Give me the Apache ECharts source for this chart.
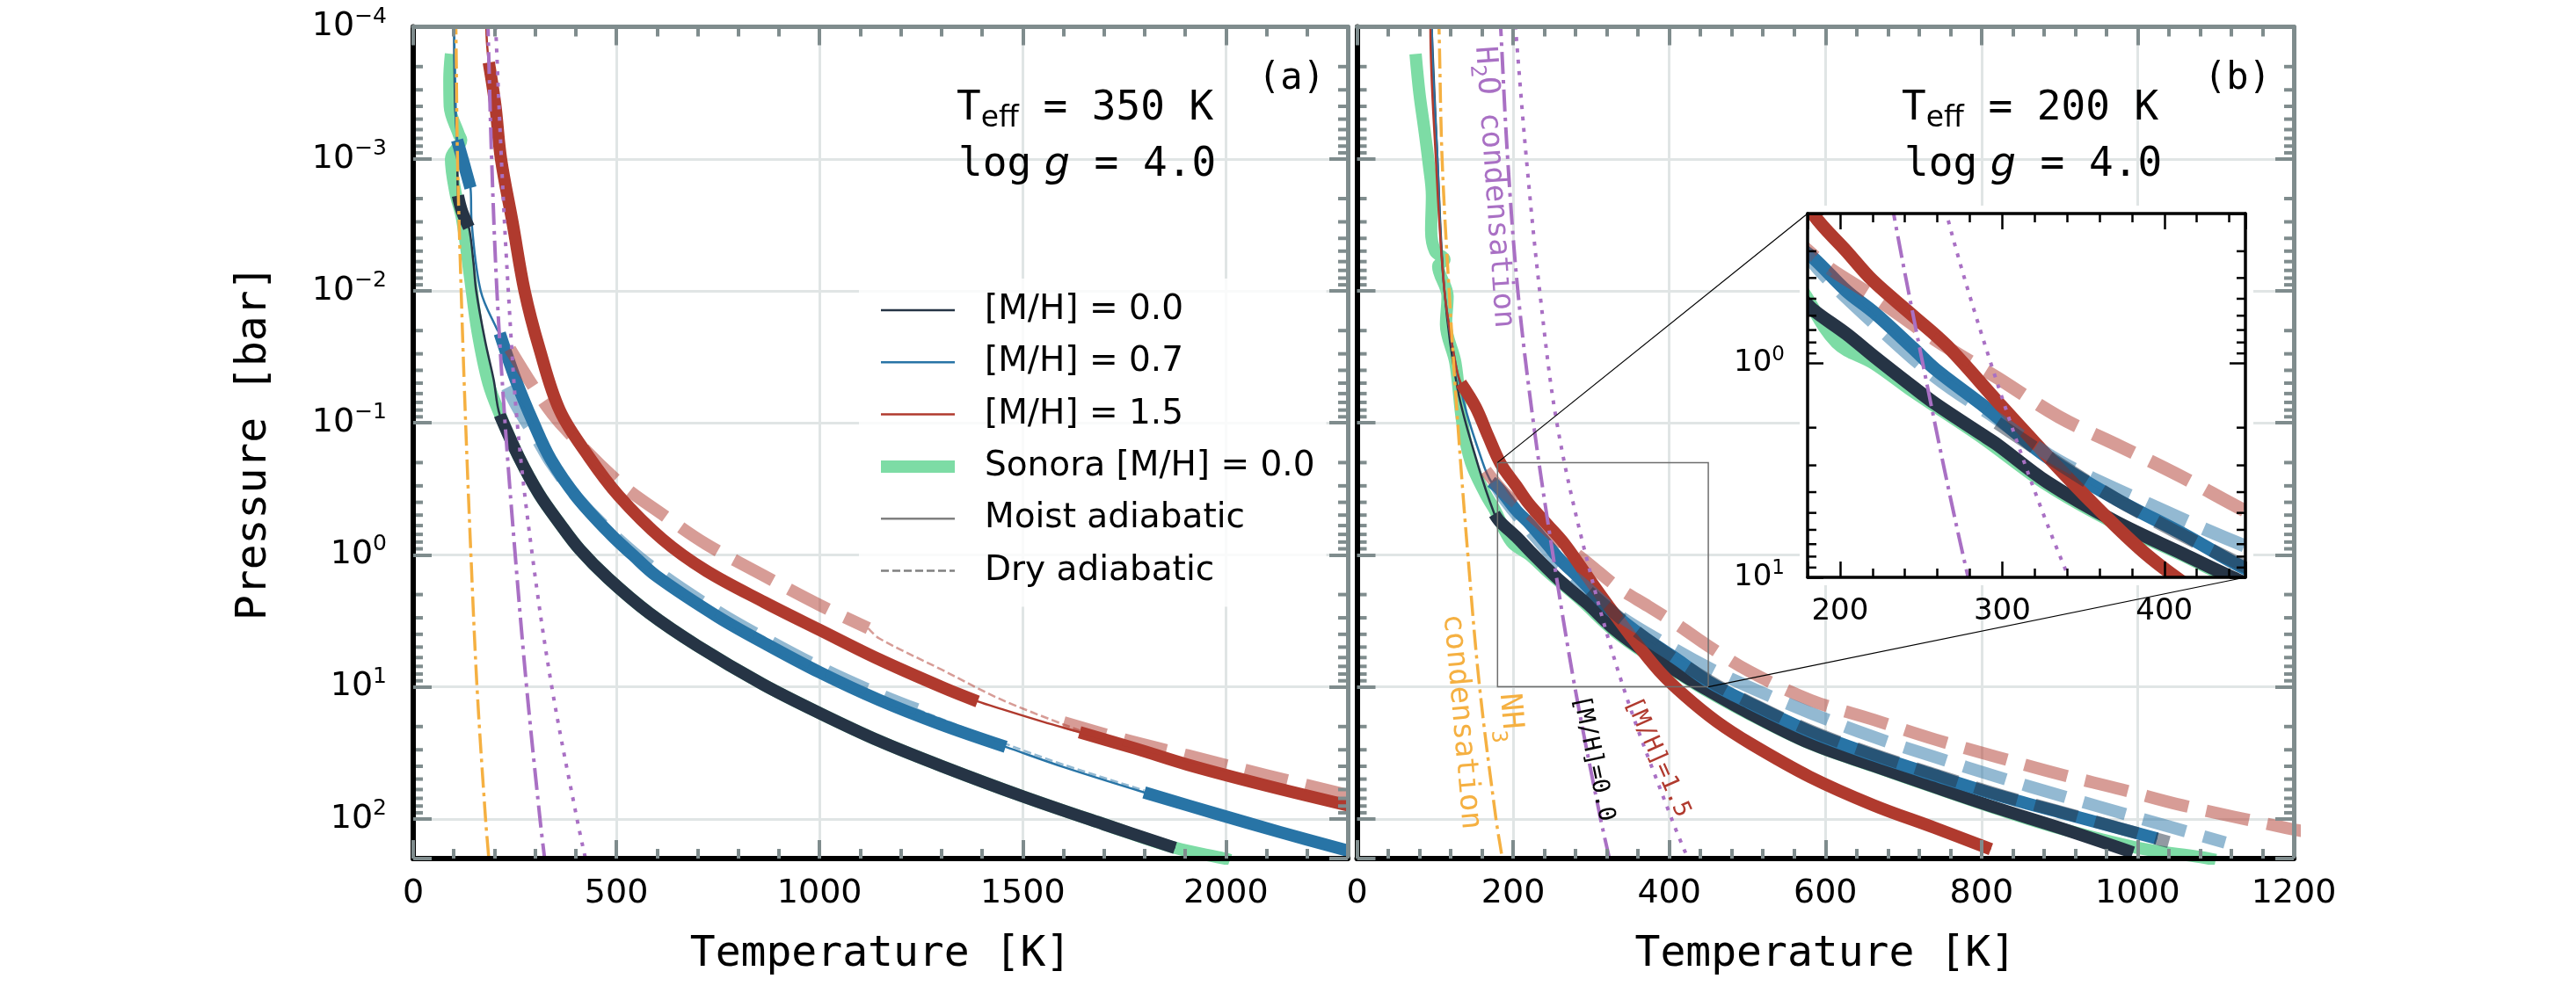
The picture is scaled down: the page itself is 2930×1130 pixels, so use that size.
<!DOCTYPE html>
<html>
<head>
<meta charset="utf-8">
<script src="https://cdn.jsdelivr.net/npm/echarts@6/dist/echarts.min.js"></script>
<style>html,body{margin:0;padding:0;background:#fff;}#chart{width:2930px;height:1130px;}</style>
</head>
<body>
<div id="chart"></div>
<script>
// ================= DATA (temperature [K], pressure [bar]) =================
// Condensation curves (shared by both panels)
const nh3Cond      = [[104,8e-5],[105,1e-4],[109,1e-3],[118,1e-2],[129,0.1],[142,1],[157,10],[178,100],[186,200],[188,260]];
const h2oCondSolar = [[183,8e-5],[184,1e-4],[193,1e-3],[206,1e-2],[226,0.1],[251,1],[279,10],[312,100],[325,220]];
const h2oCondRich  = [[202,8e-5],[203,1e-4],[217,1e-3],[234,1e-2],[256,0.1],[293,1],[341,10],[403,100],[427,220]];

// Panel (a): Teff = 350 K
const aSonora = [[93,1.6e-4],[89,2.5e-4],[90,4e-4],[112,6.5e-4],[118,7.2e-4],[93,1e-3],[104,1.8e-3],[120,2.8e-3],[140,7.9e-3],[158,2e-2],[185,5e-2],[216,0.09],[260,0.182],[310,0.347],[360,0.575],[410,0.912],[480,1.51],[580,2.75],[700,4.9],[860,9.55],[1000,15.8],[1147,25.7],[1300,39.8],[1500,67.6],[1700,110],[1875,166],[1997,200],[2010,206]];
const aDark = [[101,8e-5],[101,1e-4],[103,3.9e-4],[108,7.2e-4],[110,1.9e-3],[120,2.5e-3],[137,3.3e-3],[148,6e-3],[155,1e-2],[177,2.4e-2],[198,4.7e-2],[213,8.7e-2],[260,0.182],[310,0.347],[360,0.575],[410,0.912],[480,1.51],[580,2.75],[700,4.9],[860,9.55],[1000,15.8],[1147,25.7],[1300,39.8],[1500,67.6],[1700,110],[1875,166]];
const aDarkConv = [[110,137],[213,1875]];
const aBlue = [[101,8e-5],[101,1e-4],[104,3.2e-4],[108,7.2e-4],[125,1.1e-3],[141,1.66e-3],[144,3.1e-3],[166,1e-2],[206,1.95e-2],[213,2.1e-2],[252,4.7e-2],[296,0.1],[339,0.19],[404,0.37],[490,0.72],[540,1.0],[599,1.45],[750,2.95],[865,4.68],[1000,7.76],[1147,12.6],[1299,19.3],[1458,28.5],[1602,40.7],[1799,63.1],[1980,92.3],[2133,126],[2300,174]];
const aBlueConv = [[108,141],[213,1458],[1799,2300]];
const aRed = [[180,8e-5],[180,1e-4],[186,1.86e-4],[202,3.9e-4],[216,1e-3],[245,3.1e-3],[274,1e-2],[310,2.7e-2],[361,8.1e-2],[433,0.182],[505,0.355],[613,0.76],[721,1.32],[865,2.29],[1000,3.7],[1147,6.2],[1306,10.2],[1389,12.9],[1450,14.8],[1550,18.4],[1640,22.1],[1780,29.5],[1906,38.9],[2100,56],[2300,79]];
const aRedConv = [[186,1389],[1640,2300]];
const aRedDryUpper = [[238,2.75e-2],[303,5.75e-2],[361,0.1],[505,0.28],[620,0.51],[721,0.83],[865,1.45],[1000,2.4],[1120,3.6]];
const aRedDryMid   = [[1120,3.6],[1147,4.3],[1300,7.4],[1450,12.6],[1640,21.4]];
const aRedDryDeep  = [[1601,18.6],[1750,25.1],[1906,33.1],[2100,46.8],[2300,66]];
const aBlueDryUpper = [[231,5.4e-2],[265,8.5e-2],[303,0.13],[339,0.2],[404,0.37],[490,0.69],[599,1.32],[750,2.7],[865,4.3],[1000,7.1],[1147,11.4],[1240,14.8]];
const aBlueDryMid   = [[1240,14.8],[1458,27],[1602,39],[1799,61]];

// Panel (b): Teff = 200 K
const bSonora = [[75,1.6e-4],[80,3.2e-4],[86,5.8e-4],[92,1.1e-3],[96,1.9e-3],[95,3.5e-3],[100,5e-3],[112,5.8e-3],[104,6.5e-3],[116,1.1e-2],[114,1.8e-2],[126,3.5e-2],[135,0.1],[146,0.2],[165,0.35],[176,0.45],[198,0.8],[221,1.0],[245,1.35],[287,2.2],[328,3.7],[370,5.6],[412,7.9],[442,10.2],[502,16],[581,27],[662,40],[740,58],[820,84],[900,118],[1000,166],[1081,195],[1100,205]];
const bDark = [[95,8e-5],[95.5,1e-4],[103,1e-3],[112,1e-2],[129,5.6e-2],[154,0.2],[176,0.49],[183,0.56],[204,0.73],[221,0.93],[245,1.29],[259,1.55],[287,2.14],[297,2.4],[328,3.6],[370,5.5],[412,7.8],[442,10],[502,15.8],[581,26.9],[662,39.8],[740,57.5],[820,83],[900,117],[994,180]];
const bDarkConv = [[176,994]];
const bBlue = [[96,8e-5],[96,1e-4],[103,1e-3],[112,1e-2],[135,6.3e-2],[161,0.2],[172,0.28],[183,0.32],[204,0.46],[221,0.58],[245,0.85],[259,1.07],[287,1.55],[328,2.75],[370,4.3],[412,6.3],[450,9.1],[502,13.2],[581,21.9],[662,33],[740,46.8],[820,66],[900,89],[1025,141]];
const bBlueConv = [[172,1025]];
const bRed = [[94,8e-5],[94,1e-4],[101,1e-3],[112,1e-2],[126,3.5e-2],[133,5e-2],[152,7.6e-2],[168,0.126],[184,0.204],[204,0.30],[220,0.41],[245,0.60],[266,0.83],[297,1.51],[320,2.34],[350,4.07],[387,7.59],[420,11.7],[460,18.2],[504,26.9],[580,48],[662,79],[740,117],[812,170]];
const bRedConv = [[133,812]];
const bRedDry  = [[165,0.23],[189,0.34],[221,0.49],[259,0.78],[297,1.17],[335,1.78],[373,2.45],[411,3.4],[450,4.9],[502,7.6],[581,12.6],[662,17.8],[740,25],[820,34],[899,45.7],[980,60],[1057,79],[1190,117],[1230,130]];
const bBlueDry = [[175,0.28],[189,0.38],[221,0.65],[259,1.16],[297,1.82],[335,2.86],[391,4.57],[449,7.1],[502,10],[581,15.8],[662,24],[740,34],[820,48],[899,66],[1000,98],[1112,151]];
const bDarkDry = [[297,1.9],[370,4.3],[450,8.9],[502,13],[581,21.5],[662,32.5],[740,46],[820,65],[900,88],[1040,150]];

// Axis ranges / ticks
const tRangeA = [0, 2300], tStepA = 500;
const tRangeB = [0, 1200], tStepB = 200;
const pRange = [1e-4, 200];
const insetT = [180, 450];
const insetP = [0.2, 10];
const legendNames = ['[M/H] = 0.0', '[M/H] = 0.7', '[M/H] = 1.5', 'Sonora [M/H] = 0.0', 'Moist adiabatic', 'Dry adiabatic'];

// ================= STYLE =================
const MONO = 'DejaVu Sans Mono', SANS = 'DejaVu Sans';
const COL = {dark:'#263445', blue:'#2874a6', red:'#b03a2e', green:'#7ddca5', purple:'#a970c4', orange:'#f5b041',
             axisGray:'#7f8c8d', grid:'#e0e5e5', moist:'#808080'};
const DASH = {thick:[50,21], thin:[9,4], dashDot:[25,7,4,7], dot:[4.5,8.5]};

function seg(profile, range) { return profile.filter(p => p[0] >= range[0] && p[0] <= range[1]); }

function lineS(name, data, xi, yi, color, width, type, opacity, z) {
  return {type:'line', name, data, xAxisIndex:xi, yAxisIndex:yi, symbol:'none', showSymbol:false,
    smooth:0.35, silent:true, z, animation:false,
    lineStyle:{color, width, type:type||'solid', opacity:(opacity==null?1:opacity), cap:'butt', join:'round'},
    itemStyle:{color}, emphasis:{disabled:true}};
}

function panelSeries(tag, p, xi, yi, z, thick, names) {
  const s = [];
  s.push(lineS(names ? names[3] : tag+'sonora', p.sonora, xi, yi, COL.green, thick, 'solid', 1, z));
  s.push(lineS(names ? names[0] : tag+'dark', p.dark, xi, yi, COL.dark, 2.5, 'solid', 1, z));
  s.push(lineS(names ? names[1] : tag+'blue', p.blue, xi, yi, COL.blue, 2.5, 'solid', 1, z));
  s.push(lineS(names ? names[2] : tag+'red', p.red, xi, yi, COL.red, 2.5, 'solid', 1, z));
  p.darkConv.forEach((r,i) => s.push(lineS(tag+'darkc'+i, seg(p.dark, r), xi, yi, COL.dark, thick, 'solid', 1, z)));
  p.blueConv.forEach((r,i) => s.push(lineS(tag+'bluec'+i, seg(p.blue, r), xi, yi, COL.blue, thick, 'solid', 1, z)));
  p.redConv.forEach((r,i) => s.push(lineS(tag+'redc'+i, seg(p.red, r), xi, yi, COL.red, thick, 'solid', 1, z)));
  p.dry.forEach((d,i) => s.push(lineS(tag+'dry'+i, d.data, xi, yi, d.color,
      d.thick ? thick : 2.5, d.thick ? DASH.thick : DASH.thin, 0.5, z)));
  s.push(lineS(tag+'nh3', nh3Cond, xi, yi, COL.orange, 3.5, [23,6,4,6], 1, z));
  s.push(lineS(tag+'h2o0', h2oCondSolar, xi, yi, COL.purple, 4, DASH.dashDot, 1, z));
  s.push(lineS(tag+'h2o15', h2oCondRich, xi, yi, COL.purple, 4, DASH.dot, 1, z));
  return s;
}

const panelA = {sonora:aSonora, dark:aDark, darkConv:aDarkConv, blue:aBlue, blueConv:aBlueConv, red:aRed, redConv:aRedConv,
  dry:[{data:aRedDryUpper,color:COL.red,thick:true},{data:aRedDryMid,color:COL.red,thick:false},{data:aRedDryDeep,color:COL.red,thick:true},
       {data:aBlueDryUpper,color:COL.blue,thick:true},{data:aBlueDryMid,color:COL.blue,thick:false}]};
const panelB = {sonora:bSonora, dark:bDark, darkConv:bDarkConv, blue:bBlue, blueConv:bBlueConv, red:bRed, redConv:bRedConv,
  dry:[{data:bRedDry,color:COL.red,thick:true},{data:bBlueDry,color:COL.blue,thick:true},{data:bDarkDry,color:COL.dark,thick:true}]};

// minor tick values for log axes (2..9 x 10^n)
const minorMain = []; for (let e = -4; e <= 1; e++) for (let k = 2; k <= 9; k++) minorMain.push(k * Math.pow(10, e));
const minorInset = []; for (let k = 3; k <= 9; k++) minorInset.push(k / 10); for (let k = 2; k <= 9; k++) minorInset.push(k);

function minorTickSeries(xi, yi, xmin, values, len, color, width, z) {
  return {type:'custom', xAxisIndex:xi, yAxisIndex:yi, z, silent:true, animation:false,
    data: values.map(v => [xmin, v]),
    renderItem: function (params, api) {
      const cs = params.coordSys;
      const y = api.coord([api.value(0), api.value(1)])[1];
      const st = {stroke: color, lineWidth: width};
      return {type:'group', children:[
        {type:'line', shape:{x1:cs.x, y1:y, x2:cs.x+len, y2:y}, style:st},
        {type:'line', shape:{x1:cs.x+cs.width, y1:y, x2:cs.x+cs.width-len, y2:y}, style:st}
      ]};
    }};
}

function powLabel(v) {
  const l = Math.log10(v), e = Math.round(l);
  if (Math.abs(l - e) > 1e-6) return '';
  return '{b|10}{s|' + (e < 0 ? '\u2212' + (-e) : String(e)) + '}';
}
function plainLabel(v) { return String(Math.round(v)); }
const richMain  = {b:{fontFamily:SANS, fontSize:38, lineHeight:48, color:'#000'}, s:{fontFamily:SANS, fontSize:25, lineHeight:25, verticalAlign:'top', color:'#000'}};
const richInset = {b:{fontFamily:SANS, fontSize:34, lineHeight:42, color:'#000'}, s:{fontFamily:SANS, fontSize:23, lineHeight:23, verticalAlign:'top', color:'#000'}};

// ---- axis builders ----
function dataX(gi, range, step, name) {
  return {gridIndex:gi, type:'value', position:'bottom', min:range[0], max:range[1], interval:step, z:0,
    axisLine:{show:false, onZero:false}, axisTick:{show:false}, minorTick:{show:false},
    axisLabel:{show:true, fontFamily:SANS, fontSize:38, color:'#000', margin:20, lineHeight:40, formatter:plainLabel,
               showMaxLabel: range[1] % step === 0},
    splitLine:{show:true, lineStyle:{color:COL.grid, width:3}},
    name, nameLocation:'middle', nameGap:86,
    nameTextStyle:{fontFamily:MONO, fontSize:48, color:'#000', lineHeight:48}};
}
function spineX(gi, pos, range, step, color, w, tc, tl, ml, tw, z, labels) {
  const ax = {gridIndex:gi, type:'value', position:pos, min:range[0], max:range[1], z,
    axisLine:{show:true, onZero:false, lineStyle:{color, width:w}},
    axisTick:{show:true, inside:true, length:tl, lineStyle:{color:tc, width:tw}},
    minorTick:{show:true, splitNumber:5, length:ml, lineStyle:{color:tc, width:tw}},
    axisLabel:{show:false}, splitLine:{show:false}};
  if (step) ax.interval = step; else ax.splitNumber = 3;
  if (labels) ax.axisLabel = {show:true, fontFamily:SANS, fontSize:34, color:'#000', margin:22, formatter:plainLabel, showMinLabel:false, showMaxLabel:false};
  return ax;
}
function dataY(gi, labels) {
  const ax = {gridIndex:gi, type:'log', logBase:10, inverse:true, min:pRange[0], max:pRange[1], position:'left', z:0,
    axisLine:{show:false, onZero:false}, axisTick:{show:false}, minorTick:{show:false},
    axisLabel:{show:labels, formatter:powLabel, rich:richMain, margin:30},
    splitLine:{show:true, lineStyle:{color:COL.grid, width:3}}};
  if (labels) {
    ax.name = 'Pressure [bar]'; ax.nameLocation = 'middle'; ax.nameGap = 156; ax.nameRotate = 90;
    ax.nameTextStyle = {fontFamily:MONO, fontSize:48, color:'#000', lineHeight:48};
  }
  return ax;
}
function spineY(gi, pos, range, color, w, tc, tl, tw, z, labels) {
  const ax = {gridIndex:gi, type:'log', logBase:10, inverse:true, min:range[0], max:range[1], position:pos, z,
    axisLine:{show:true, onZero:false, lineStyle:{color, width:w}},
    axisTick:{show:true, inside:true, length:tl, lineStyle:{color:tc, width:tw}},
    minorTick:{show:false}, axisLabel:{show:false}, splitLine:{show:false}};
  if (labels) ax.axisLabel = {show:true, formatter:powLabel, rich:richInset, margin:26};
  return ax;
}

const G = COL.axisGray;
const option = {
  animation:false,
  backgroundColor:'#ffffff',
  textStyle:{fontFamily:SANS},
  grid:[
    {left:470, top:30.6, width:1063, height:946.4},
    {left:1543.5, top:30.6, width:1065.5, height:946.4},
    {left:2056, top:243, width:498, height:414, z:10, show:true, backgroundColor:'#ffffff', borderWidth:0}
  ],
  xAxis:[
    dataX(0, tRangeA, tStepA, 'Temperature [K]'),                       // 0
    spineX(0, 'bottom', tRangeA, tStepA, '#000', 6, G, 21, 11, 4, 3),    // 1
    spineX(0, 'top', tRangeA, tStepA, G, 5, G, 21, 11, 4, 3),            // 2
    dataX(1, tRangeB, tStepB, 'Temperature [K]'),                        // 3
    spineX(1, 'bottom', tRangeB, tStepB, '#000', 6, G, 21, 11, 4, 3),    // 4
    spineX(1, 'top', tRangeB, tStepB, G, 5, G, 21, 11, 4, 3),            // 5
    spineX(2, 'bottom', insetT, null, '#000', 3.5, '#000', 18, 10, 2.5, 14, true), // 6
    spineX(2, 'top', insetT, null, '#000', 3.5, '#000', 18, 10, 2.5, 14, false)    // 7
  ],
  yAxis:[
    dataY(0, true),                                            // 0
    spineY(0, 'left', pRange, '#000', 6, G, 21, 4, 3),         // 1
    spineY(0, 'right', pRange, G, 5, G, 21, 4, 3),             // 2
    dataY(1, false),                                           // 3
    spineY(1, 'left', pRange, '#000', 6, G, 21, 4, 3),         // 4
    spineY(1, 'right', pRange, G, 5, G, 21, 4, 3),             // 5
    spineY(2, 'left', insetP, '#000', 3.5, '#000', 18, 2.5, 14, true),  // 6
    spineY(2, 'right', insetP, '#000', 3.5, '#000', 18, 2.5, 14, false) // 7
  ],
  legend:{
    show:true, orient:'vertical', left:977, top:317, padding:[16,13,21,18],
    itemWidth:84, itemHeight:40, itemGap:19.3, selectedMode:false,
    backgroundColor:'rgba(255,255,255,0.8)', borderWidth:0, z:6,
    itemStyle:{opacity:0},
    textStyle:{fontFamily:SANS, fontSize:39, color:'#000', lineHeight:40, padding:[0,0,0,29]},
    data:[
      {name:legendNames[0], lineStyle:{width:2.5}},
      {name:legendNames[1], lineStyle:{width:2.5}},
      {name:legendNames[2], lineStyle:{width:2.5}},
      {name:legendNames[3], lineStyle:{width:14}},
      {name:legendNames[4], lineStyle:{width:2.5}},
      {name:legendNames[5], lineStyle:{width:2.5, type:DASH.thin}}
    ]
  },
  series:[].concat(
    panelSeries('a-', panelA, 0, 0, 2, 14, legendNames),
    panelSeries('b-', panelB, 3, 3, 2, 14, null),
    panelSeries('i-', panelB, 6, 6, 12, 15, null),
    [
      lineS(legendNames[4], [], 0, 0, COL.moist, 2.5, 'solid', 1, 2),
      lineS(legendNames[5], [], 0, 0, COL.moist, 2.5, DASH.thin, 1, 2),
      minorTickSeries(1, 1, tRangeA[0], minorMain, 11, G, 4, 3),
      minorTickSeries(4, 4, tRangeB[0], minorMain, 11, G, 4, 3),
      minorTickSeries(6, 6, insetT[0], minorInset, 10, '#000', 2.5, 14)
    ]
  )
};

const chart = echarts.init(document.getElementById('chart'), null, {renderer:'canvas', width:2930, height:1130});
chart.setOption(option);

// zoom box and connectors, computed through the axes
const boxTL = chart.convertToPixel({xAxisIndex:3, yAxisIndex:3}, [insetT[0], insetP[0]]);
const boxBR = chart.convertToPixel({xAxisIndex:3, yAxisIndex:3}, [insetT[1], insetP[1]]);
const insTL = chart.convertToPixel({xAxisIndex:6, yAxisIndex:6}, [insetT[0], insetP[0]]);
const insBR = chart.convertToPixel({xAxisIndex:6, yAxisIndex:6}, [insetT[1], insetP[1]]);
const band = 9;

function txt(x, y, text, rich, rotDeg, align, z) {
  return {type:'text', x, y, rotation:(rotDeg||0)*Math.PI/180, z:z||20, silent:true,
    style:{text, rich, x:0, y:0, align:align||'center', verticalAlign:'middle'}};
}
const teffRich = {m:{fontFamily:MONO, fontSize:46, lineHeight:56, fill:'#000'},
                  s:{fontFamily:SANS, fontSize:33, lineHeight:33, verticalAlign:'bottom', fill:'#000'}};
const loggRich = {m:{fontFamily:MONO, fontSize:46, lineHeight:56, fill:'#000'},
                  g:{fontFamily:SANS, fontStyle:'italic', fontSize:46, lineHeight:56, fill:'#000'}};
const h2oRich = {p:{fontFamily:MONO, fontSize:34, lineHeight:44, fill:COL.purple},
                 b:{fontFamily:MONO, fontSize:24, lineHeight:24, verticalAlign:'bottom', fill:COL.purple}};
const nh3Rich = {p:{fontFamily:MONO, fontSize:34, lineHeight:56, fill:COL.orange},
                 b:{fontFamily:MONO, fontSize:24, lineHeight:34, verticalAlign:'bottom', fill:COL.orange}};

chart.setOption({graphic:[
  // white bands that clip the inset lines at the frame
  {type:'rect', z:13, silent:true, shape:{x:insTL[0]-band, y:insTL[1]-band, width:insBR[0]-insTL[0]+2*band, height:band}, style:{fill:'#fff'}},
  {type:'rect', z:13, silent:true, shape:{x:insTL[0]-band, y:insBR[1], width:insBR[0]-insTL[0]+2*band, height:band}, style:{fill:'#fff'}},
  {type:'rect', z:13, silent:true, shape:{x:insTL[0]-band, y:insTL[1], width:band, height:insBR[1]-insTL[1]}, style:{fill:'#fff'}},
  {type:'rect', z:13, silent:true, shape:{x:insBR[0], y:insTL[1], width:band, height:insBR[1]-insTL[1]}, style:{fill:'#fff'}},
  // zoom rectangle
  {type:'rect', z:5, silent:true, shape:{x:boxTL[0], y:boxTL[1], width:boxBR[0]-boxTL[0], height:boxBR[1]-boxTL[1]},
   style:{fill:'none', stroke:'#6e6e6e', lineWidth:1.5}},
  {type:'line', z:16, silent:true, shape:{x1:boxTL[0], y1:boxTL[1], x2:insTL[0], y2:insTL[1]}, style:{stroke:'#000', lineWidth:1.2}},
  {type:'line', z:16, silent:true, shape:{x1:boxBR[0], y1:boxBR[1], x2:insBR[0], y2:insBR[1]}, style:{stroke:'#000', lineWidth:1.2}},
  // annotations
  txt(1088, 124, '{m|T}{s|eff}{m| = 350 K}', teffRich, 0, 'left'),
  txt(1090, 188, '{m|log}{g| g}{m| = 4.0}', loggRich, 0, 'left'),
  txt(1469, 90, '{m|(a)}', {m:{fontFamily:MONO, fontSize:42, fill:'#000'}}, 0, 'center'),
  txt(2163, 124, '{m|T}{s|eff}{m| = 200 K}', teffRich, 0, 'left'),
  txt(2166, 188, '{m|log}{g| g}{m| = 4.0}', loggRich, 0, 'left'),
  txt(2545, 90, '{m|(b)}', {m:{fontFamily:MONO, fontSize:42, fill:'#000'}}, 0, 'center'),
  txt(1699, 213, '{p|H}{b|2}{p|O condensation}', h2oRich, -86, 'center'),
  txt(1690, 819, '{p|NH}{b|3}\n{p|condensation}', nh3Rich, -85, 'center'),
  txt(1812, 863, '{m|[M/H]=0.0}', {m:{fontFamily:MONO, fontSize:27, fill:'#000'}}, -78, 'center'),
  txt(1885, 862, '{m|[M/H]=1.5}', {m:{fontFamily:MONO, fontSize:27, fill:COL.red}}, -66, 'center')
]});
</script>
</body>
</html>
